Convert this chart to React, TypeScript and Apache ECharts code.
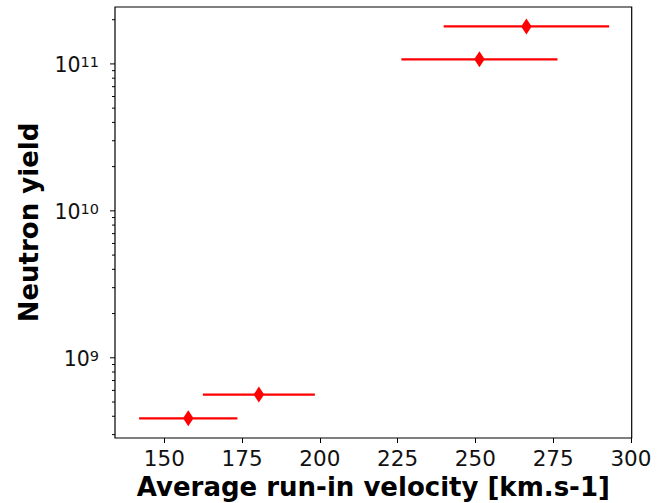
import React, { useEffect, useRef } from "react";
import * as echarts from "echarts";

// Data
const velocity = [157.7, 180.4, 251.3, 266.4]; // km/s
const velocityErr = [15.8, 18.0, 25.1, 26.6]; // km/s (horizontal error)
const neutronYield = [3.87e8, 5.62e8, 1.075e11, 1.8e11];

const xTickValues = [150, 175, 200, 225, 250, 275, 300];
const yMajorTicks = [1e9, 1e10, 1e11];
const yMinorTicks = [
  3e8, 4e8, 5e8, 6e8, 7e8, 8e8, 9e8,
  2e9, 3e9, 4e9, 5e9, 6e9, 7e9, 8e9, 9e9,
  2e10, 3e10, 4e10, 5e10, 6e10, 7e10, 8e10, 9e10,
  2e11,
];

const X_MIN = 134.15;
const X_MAX = 300.25;
const Y_MIN = 2.845e8;
const Y_MAX = 2.44e11;

const FONT = "DejaVu Sans";
const TEXT = "#111";

export default function App() {
  const ref = useRef<HTMLDivElement>(null);

  useEffect(() => {
    if (!ref.current) return;
    const chart = echarts.init(ref.current, undefined, { renderer: "svg" });

    const errData = velocity.map((v, i) => [
      v - velocityErr[i],
      v + velocityErr[i],
      neutronYield[i],
    ]);
    const pointData = velocity.map((v, i) => [v, neutronYield[i]]);
    const tickData = [
      ...yMajorTicks.map((t) => [X_MIN, t, 1]),
      ...yMinorTicks.map((t) => [X_MIN, t, 0]),
    ];

    chart.setOption({
      animation: false,
      backgroundColor: "#fff",
      grid: {
        left: 115,
        right: 31.3,
        top: 7,
        bottom: 65,
        outerBoundsMode: "none",
        containLabel: false,
        show: true,
        borderColor: "#000",
        borderWidth: 1.2,
        backgroundColor: "transparent",
      },
      xAxis: {
        type: "value",
        min: X_MIN,
        max: X_MAX,
        name: "Average run-in velocity [km.s-1]",
        nameLocation: "middle",
        nameGap: 35.5,
        nameTextStyle: {
          fontFamily: FONT,
          fontWeight: "bold",
          fontSize: 26,
          lineHeight: 26,
          color: "#000",
        },
        axisLine: { show: false },
        splitLine: { show: false },
        axisTick: {
          show: true,
          length: 5,
          customValues: xTickValues,
          lineStyle: { color: "#000", width: 1 },
        },
        axisLabel: {
          customValues: xTickValues,
          margin: 10.5,
          fontFamily: FONT,
          fontSize: 21.5,
          lineHeight: 20,
          color: TEXT,
        },
      },
      yAxis: {
        type: "log",
        logBase: 10,
        min: Y_MIN,
        max: Y_MAX,
        name: "Neutron yield",
        nameLocation: "middle",
        nameGap: 73,
        nameRotate: 90,
        nameTextStyle: {
          fontFamily: FONT,
          fontWeight: "bold",
          fontSize: 26,
          lineHeight: 26,
          color: "#000",
        },
        axisLine: { show: false },
        splitLine: { show: false },
        minorTick: { show: false },
        axisTick: { show: false },
        axisLabel: {
          margin: 16,
          padding: [3, 0, 0, 0],
          showMinLabel: true,
          showMaxLabel: true,
          formatter: (v: number) => {
            const e = Math.log10(v);
            const r = Math.round(e);
            if (Math.abs(e - r) > 1e-6) return "";
            return `{b|10}{s|${r}}`;
          },
          rich: {
            b: {
              fontFamily: FONT,
              fontSize: 20.5,
              lineHeight: 22,
              color: TEXT,
            },
            s: {
              fontFamily: FONT,
              fontSize: 14.5,
              lineHeight: 14,
              verticalAlign: "top",
              color: TEXT,
            },
          },
        },
      },
      series: [
        {
          type: "custom",
          name: "yticks",
          clip: false,
          silent: true,
          encode: { x: 0, y: 1 },
          data: tickData,
          renderItem: (params: any, api: any) => {
            const p = api.coord([api.value(0), api.value(1)]);
            const len = api.value(2) === 1 ? 5 : 3;
            return {
              type: "line",
              shape: { x1: p[0] - len, y1: p[1], x2: p[0], y2: p[1] },
              style: { stroke: "#000", lineWidth: 1 },
            };
          },
          z: 1,
        },
        {
          type: "custom",
          name: "xerr",
          silent: true,
          encode: { x: [0, 1], y: 2 },
          data: errData,
          renderItem: (params: any, api: any) => {
            const a = api.coord([api.value(0), api.value(2)]);
            const b = api.coord([api.value(1), api.value(2)]);
            return {
              type: "line",
              shape: { x1: a[0], y1: a[1], x2: b[0], y2: b[1] },
              style: { stroke: "#ff0000", lineWidth: 2.2 },
            };
          },
          z: 2,
        },
        {
          type: "scatter",
          name: "points",
          data: pointData,
          symbol: "diamond",
          symbolSize: [10.5, 16],
          itemStyle: { color: "#ff0000", opacity: 1 },
          z: 3,
        },
      ],
    });

    return () => {
      chart.dispose();
    };
  }, []);

  return (
    <div
      ref={ref}
      style={{
        position: "absolute",
        left: 0,
        top: 0,
        width: 663,
        height: 503,
        background: "#fff",
      }}
    />
  );
}
